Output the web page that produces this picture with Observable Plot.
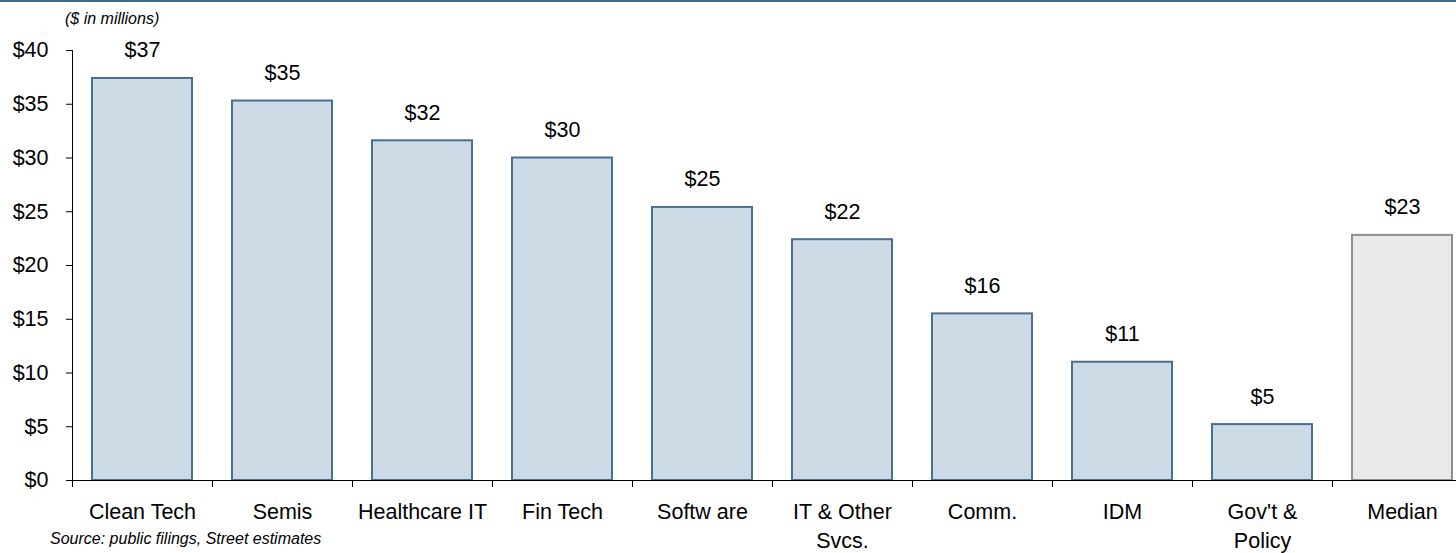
<!DOCTYPE html>
<html><head><meta charset="utf-8">
<script src="https://cdn.jsdelivr.net/npm/d3@7"></script>
<script src="https://cdn.jsdelivr.net/npm/@observablehq/plot@0.6"></script>
<style>
body{margin:0;background:#fff;font-family:"Liberation Sans",Arial,sans-serif;}
#wrap{position:relative;width:1456px;height:553px;overflow:hidden;background:#fff;}
#topline{position:absolute;left:0;top:0;width:1456px;height:1.5px;background:#3d6b8e;z-index:2;}
#chart{position:absolute;left:0;top:0;}
.note{position:absolute;font-style:italic;font-size:16px;line-height:16px;color:#000;white-space:nowrap;z-index:2;}
#sub{left:65px;top:11px;}
#src{left:50px;top:531px;}
</style></head><body>
<div id="wrap"><div id="topline"></div><div id="chart"></div>
<div class="note" id="sub">($ in millions)</div>
<div class="note" id="src">Source: public filings, Street estimates</div></div>
<script>
const categories = ["Clean Tech","Semis","Healthcare IT","Fin Tech","Software","IT & Other Svcs.","Comm.","IDM","Gov't & Policy","Median"];
const xLabels = ["Clean Tech","Semis","Healthcare IT","Fin Tech","Softw are","IT & Other\nSvcs.","Comm.","IDM","Gov't &\nPolicy","Median"];
const values = [37.4, 35.3, 31.6, 30.0, 25.4, 22.4, 15.5, 11.0, 5.2, 22.8];
const valueLabels = ["$37","$35","$32","$30","$25","$22","$16","$11","$5","$23"];
const yTicks = [0,5,10,15,20,25,30,35,40];

const data = categories.map((c,i)=>({category:c, value:values[i], label:valueLabels[i], median:c==="Median"}));
const font = '"Liberation Sans", Arial, sans-serif';
const fs = 21.5;

const plot = Plot.plot({
  width:1456, height:553,
  marginLeft:72, marginRight:-16, marginTop:50, marginBottom:73,
  x:{domain:categories, padding:0, label:null, axis:null},
  y:{domain:[0,40], label:null, axis:null},
  color:{type:"identity"},
  style:{fontFamily:font, fontSize:fs+"px", color:"#000", background:"transparent", overflow:"visible"},
  marks:[
    Plot.barY(data,{x:"category", y:"value", insetLeft:20, insetRight:20,
      fill:d=>d.median?"#e9e9e9":"#cddbe6",
      stroke:d=>d.median?"#8e8e8e":"#4a6f90", strokeWidth:2}),
    Plot.frame({anchor:"left", stroke:"#000"}),
    Plot.ruleY([0],{stroke:"#000"}),
    Plot.ruleX(categories,{x:d=>d, dx:-70, y1:0, y2:0, insetBottom:-7, stroke:"#000"}),
    Plot.axisY({ticks:yTicks, tickSize:6, tickPadding:18, tickFormat:d=>"$"+d, fontSize:fs, label:null}),
    Plot.axisX({tickSize:0, tickPadding:18, tickFormat:d=>xLabels[categories.indexOf(d)], lineHeight:1.35, fontSize:fs, label:null}),
    Plot.text(data,{x:"category", y:"value", text:"label", lineAnchor:"bottom", dy:-21, fontSize:fs, fill:"#000"})
  ]
});
document.getElementById("chart").appendChild(plot);
</script>
</body></html>
